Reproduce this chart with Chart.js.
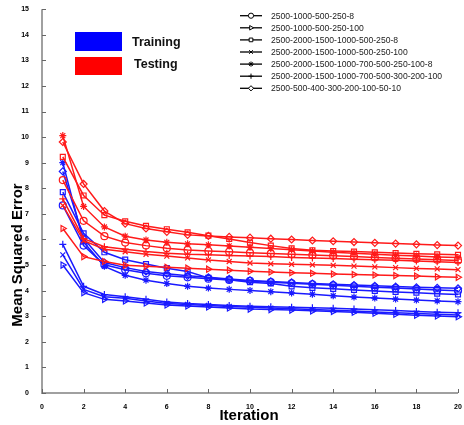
<!DOCTYPE html>
<html>
<head>
<meta charset="utf-8">
<script src="https://cdn.jsdelivr.net/npm/chart.js@4.4.1/dist/chart.umd.min.js"></script>
<style>
  html, body { margin: 0; padding: 0; background: #fff; }
  #wrap { width: 464px; height: 425px; }
</style>
</head>
<body>
<div id="wrap"><canvas id="c" width="464" height="425"></canvas></div>
<script>
const iterations = [1,2,3,4,5,6,7,8,9,10,11,12,13,14,15,16,17,18,19,20]
const xTicks = [0,2,4,6,8,10,12,14,16,18,20]
const yTicks = [0,1,2,3,4,5,6,7,8,9,10,11,12,13,14,15]

const networks = [
    "2500-1000-500-250-8",
    "2500-1000-500-250-100",
    "2500-2000-1500-1000-500-250-8",
    "2500-2000-1500-1000-500-250-100",
    "2500-2000-1500-1000-700-500-250-100-8",
    "2500-2000-1500-1000-700-500-300-200-100",
    "2500-500-400-300-200-100-50-10"
]
const markers = ["circle", "triangle", "rect", "crossRot", "star", "cross", "rectRot"]

// training error (blue), one array per network
const trainCircle   = [7.33, 5.76, 5.01, 4.82, 4.68, 4.58, 4.52, 4.47, 4.42, 4.38, 4.33, 4.29, 4.25, 4.21, 4.17, 4.13, 4.10, 4.06, 4.03, 4.00]
const trainTriangle = [5.00, 3.92, 3.66, 3.60, 3.52, 3.44, 3.40, 3.36, 3.32, 3.28, 3.26, 3.24, 3.21, 3.19, 3.16, 3.12, 3.08, 3.04, 3.01, 2.98]
const trainSquare   = [7.85, 6.24, 5.50, 5.21, 5.04, 4.88, 4.75, 4.50, 4.43, 4.33, 4.28, 4.17, 4.11, 4.07, 4.03, 3.99, 3.95, 3.92, 3.88, 3.85]
const trainX        = [5.40, 4.05, 3.76, 3.70, 3.60, 3.50, 3.46, 3.42, 3.38, 3.35, 3.32, 3.29, 3.26, 3.23, 3.20, 3.17, 3.14, 3.11, 3.08, 3.05]
const trainStar     = [9.00, 5.90, 4.95, 4.60, 4.41, 4.28, 4.17, 4.10, 4.05, 4.01, 3.96, 3.91, 3.86, 3.80, 3.75, 3.71, 3.67, 3.63, 3.60, 3.57]
const trainPlus     = [5.81, 4.17, 3.85, 3.76, 3.66, 3.56, 3.50, 3.46, 3.42, 3.39, 3.37, 3.35, 3.33, 3.31, 3.28, 3.25, 3.22, 3.19, 3.16, 3.14]
const trainDiamond  = [8.66, 6.04, 5.10, 4.90, 4.75, 4.66, 4.58, 4.52, 4.46, 4.40, 4.36, 4.32, 4.28, 4.25, 4.22, 4.19, 4.16, 4.13, 4.11, 4.09]

// testing error (red)
const testCircle   = [8.32, 6.73, 6.13, 5.88, 5.76, 5.66, 5.59, 5.55, 5.52, 5.48, 5.45, 5.42, 5.39, 5.36, 5.33, 5.30, 5.27, 5.24, 5.21, 5.18]
const testTriangle = [6.43, 5.33, 5.14, 4.99, 4.95, 4.91, 4.88, 4.84, 4.80, 4.76, 4.73, 4.70, 4.68, 4.65, 4.63, 4.61, 4.59, 4.57, 4.54, 4.52]
const testSquare   = [9.23, 7.72, 6.95, 6.71, 6.53, 6.40, 6.28, 6.15, 6.02, 5.88, 5.76, 5.65, 5.58, 5.55, 5.53, 5.50, 5.47, 5.44, 5.42, 5.40]
const testX        = [7.33, 5.95, 5.62, 5.52, 5.42, 5.35, 5.28, 5.20, 5.14, 5.08, 5.05, 5.03, 5.01, 4.99, 4.96, 4.93, 4.90, 4.87, 4.85, 4.82]
const testStar     = [10.06, 7.29, 6.49, 6.13, 5.98, 5.89, 5.83, 5.79, 5.75, 5.70, 5.65, 5.60, 5.55, 5.50, 5.46, 5.42, 5.38, 5.35, 5.32, 5.30]
const testPlus     = [7.59, 6.03, 5.72, 5.62, 5.53, 5.46, 5.42, 5.40, 5.37, 5.35, 5.33, 5.30, 5.28, 5.26, 5.23, 5.21, 5.19, 5.16, 5.13, 5.10]
const testDiamond  = [9.81, 8.17, 7.11, 6.62, 6.43, 6.30, 6.18, 6.14, 6.10, 6.07, 6.03, 6.00, 5.96, 5.93, 5.90, 5.87, 5.84, 5.81, 5.78, 5.76]

const trainSeries = [trainCircle, trainTriangle, trainSquare, trainX, trainStar, trainPlus, trainDiamond]
const testSeries = [testCircle, testTriangle, testSquare, testX, testStar, testPlus, testDiamond]

const RED = "#ff1a1a"
const BLUE = "#1a1aff"

function makeSet(values, i, color, kind) {
    return {
        label: kind + " " + networks[i],
        data: values.map((v, k) => ({ x: iterations[k], y: v })),
        borderColor: color,
        borderWidth: 1.5,
        pointStyle: markers[i],
        pointRotation: markers[i] === "triangle" ? 90 : 0,
        pointRadius: 3.5,
        pointBorderWidth: 1.2,
        pointBorderColor: color,
        pointBackgroundColor: "rgba(255,255,255,0)",
        tension: 0,
        clip: false
    }
}

// first dataset is drawn on top, so testing goes first
const datasets = []
testSeries.forEach((s, i) => datasets.push(makeSet(s, i, RED, "Testing")))
trainSeries.forEach((s, i) => datasets.push(makeSet(s, i, BLUE, "Training")))

const overlay = {
    id: "overlay",
    afterDraw(chart) {
        const ctx = chart.ctx
        const { left, right, top, bottom } = chart.chartArea
        const xs = chart.scales.x, ys = chart.scales.y
        ctx.save()

        // axes, only left and bottom
        ctx.strokeStyle = "#a0a0a0"
        ctx.lineWidth = 2
        ctx.beginPath()
        ctx.moveTo(left, top)
        ctx.lineTo(left, bottom)
        ctx.lineTo(right, bottom)
        ctx.stroke()

        // inward tick marks
        ctx.strokeStyle = "#666"
        ctx.lineWidth = 1
        ctx.beginPath()
        xTicks.forEach(v => {
            const px = Math.round(xs.getPixelForValue(v)) + 0.5
            ctx.moveTo(px, bottom)
            ctx.lineTo(px, bottom - 4)
        })
        yTicks.forEach(v => {
            const py = Math.round(ys.getPixelForValue(v)) + 0.5
            ctx.moveTo(left, py)
            ctx.lineTo(left + 4, py)
        })
        ctx.stroke()

        // axis titles
        ctx.fillStyle = "#000"
        ctx.font = "bold 15px 'Liberation Sans', Arial, sans-serif"
        ctx.textAlign = "center"
        ctx.textBaseline = "middle"
        ctx.fillText("Iteration", 249, 416)
        ctx.save()
        ctx.translate(18, 255)
        ctx.rotate(-Math.PI / 2)
        ctx.fillText("Mean Squared Error", 0, 0)
        ctx.restore()

        // Training / Testing colour key
        ctx.fillStyle = "#0000ff"
        ctx.fillRect(75, 32, 47, 19)
        ctx.fillStyle = "#ff0000"
        ctx.fillRect(75, 57, 47, 18)
        ctx.fillStyle = "#111"
        ctx.font = "bold 12.5px 'Liberation Sans', Arial, sans-serif"
        ctx.textAlign = "left"
        ctx.fillText("Training", 132, 43)
        ctx.fillText("Testing", 134, 65)

        // network legend with black line + marker
        ctx.font = "8.6px 'Liberation Sans', Arial, sans-serif"
        networks.forEach((name, i) => {
            const y = 15.7 + i * 12.1
            ctx.strokeStyle = "#000"
            ctx.lineWidth = 1.3
            ctx.beginPath()
            ctx.moveTo(240, y)
            ctx.lineTo(262, y)
            ctx.stroke()
            ctx.fillStyle = "#fff"
            ctx.lineWidth = 1
            Chart.helpers.drawPoint(ctx, {
                pointStyle: markers[i],
                radius: 2.6,
                rotation: markers[i] === "triangle" ? 90 : 0,
                borderWidth: 1
            }, 251, y)
            ctx.fillStyle = "#222"
            ctx.fillText(name, 271, y + 0.5)
        })
        ctx.restore()
    }
}

new Chart(document.getElementById("c"), {
    type: "line",
    data: { datasets: datasets },
    options: {
        responsive: false,
        animation: false,
        layout: { padding: { left: 0, right: 6, top: 5, bottom: 0 } },
        plugins: {
            legend: { display: false },
            tooltip: { enabled: false }
        },
        scales: {
            x: {
                type: "linear",
                min: 0,
                max: 20,
                grid: { display: false },
                border: { display: false },
                afterFit: (scale) => { scale.height = 32 },
                afterBuildTicks: (scale) => { scale.ticks = xTicks.map(v => ({ value: v })) },
                ticks: {
                    padding: 2,
                    maxRotation: 0,
                    color: "#000",
                    font: { size: 7, weight: "bold", family: "'Liberation Sans', Arial, sans-serif" }
                }
            },
            y: {
                type: "linear",
                min: 0,
                max: 15,
                grid: { display: false },
                border: { display: false },
                afterFit: (scale) => { scale.width = 42 },
                afterBuildTicks: (scale) => { scale.ticks = yTicks.map(v => ({ value: v })) },
                ticks: {
                    padding: 5,
                    color: "#000",
                    font: { size: 7, weight: "bold", family: "'Liberation Sans', Arial, sans-serif" }
                }
            }
        }
    },
    plugins: [overlay]
})
</script>
</body>
</html>
